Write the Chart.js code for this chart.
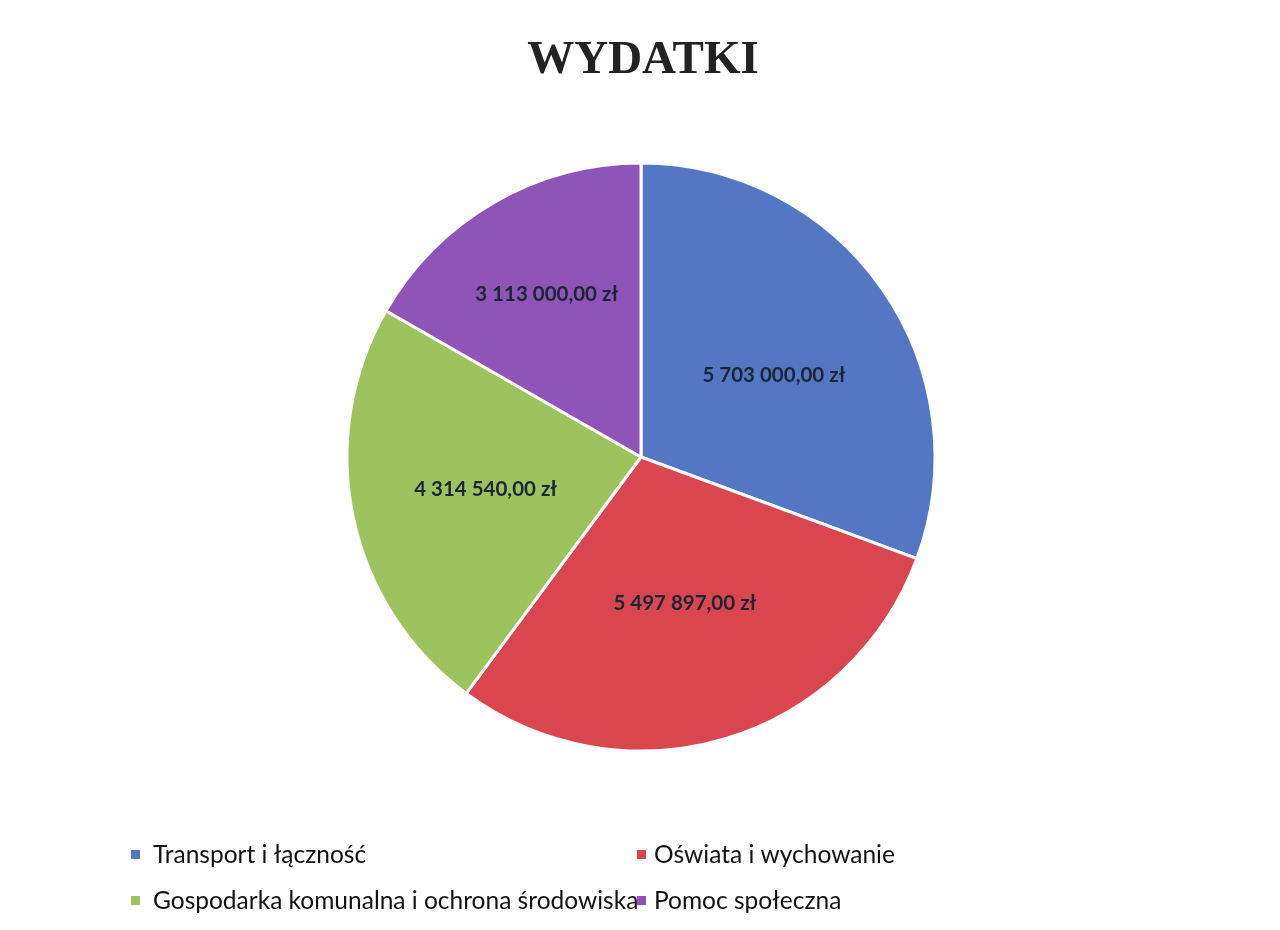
<!DOCTYPE html>
<html><head><meta charset="utf-8">
<script src="https://cdn.jsdelivr.net/npm/chart.js@4/dist/chart.umd.min.js"></script>
<style>html,body{margin:0;padding:0;background:#fff}#wrap{width:1280px;height:930px}</style>
</head><body><div id="wrap"><canvas id="c" width="1280" height="930"></canvas></div>
<script>
const title = 'WYDATKI';
const categories = ['Transport i łączność', 'Oświata i wychowanie', 'Gospodarka komunalna i ochrona środowiska', 'Pomoc społeczna'];
const values = [5703000, 5497897, 4314540, 3113000];
const colors = ['#5477C4', '#D9464F', '#9DC35E', '#8E54B8'];
const labelRadial = [0.53, 0.52, 0.54, 0.64];

function fmt(v){
  const s = v.toFixed(2).split('.');
  return s[0].replace(/\B(?=(\d{3})+(?!\d))/g, ' ') + ',' + s[1] + ' zł';
}

const deco = {
  id:'deco',
  afterDraw(chart){
    const ctx = chart.ctx;
    ctx.save();
    // title
    ctx.fillStyle = '#222';
    ctx.font = 'bold 47px "Liberation Serif"';
    ctx.textAlign = 'center'; ctx.textBaseline = 'middle';
    ctx.fillText(title, 643, 61);
    // data labels
    const meta = chart.getDatasetMeta(0);
    ctx.font = 'bold 20.5px Lato';
    ctx.fillStyle = '#1c2633';
    meta.data.forEach((arc,i)=>{
      const p = arc.getProps(['x','y','startAngle','endAngle','outerRadius'], true);
      const a = (p.startAngle+p.endAngle)/2 + (i===0 ? 0.06 : 0);
      const r = p.outerRadius*labelRadial[i];
      ctx.fillText(fmt(values[i]), p.x + Math.cos(a)*r, p.y + Math.sin(a)*r);
    });
    // legend grid
    ctx.font = '24.5px Lato';
    ctx.textAlign = 'left';
    const cols = [131, 637], rows = [855, 901];
    categories.forEach((c,i)=>{
      const x = cols[i%2], y = rows[Math.floor(i/2)];
      ctx.fillStyle = colors[i];
      ctx.fillRect(x, y-5, 9, 9);
      ctx.fillStyle = '#111';
      ctx.fillText(c, x+(i%2 ? 17 : 22), y);
    });
    ctx.restore();
  }
};

new Chart(document.getElementById('c'), {
  type:'pie',
  data:{ labels: categories, datasets:[{ data: values, backgroundColor: colors, borderColor:'#fff', borderWidth:3 }]},
  options:{
    responsive:false, animation:false,
    layout:{ padding:{ top:163, bottom:179, left:2, right:0 } },
    radius: 294,
    plugins:{ legend:{display:false}, title:{display:false}, tooltip:{enabled:false} }
  },
  plugins:[deco]
});
</script></body></html>
